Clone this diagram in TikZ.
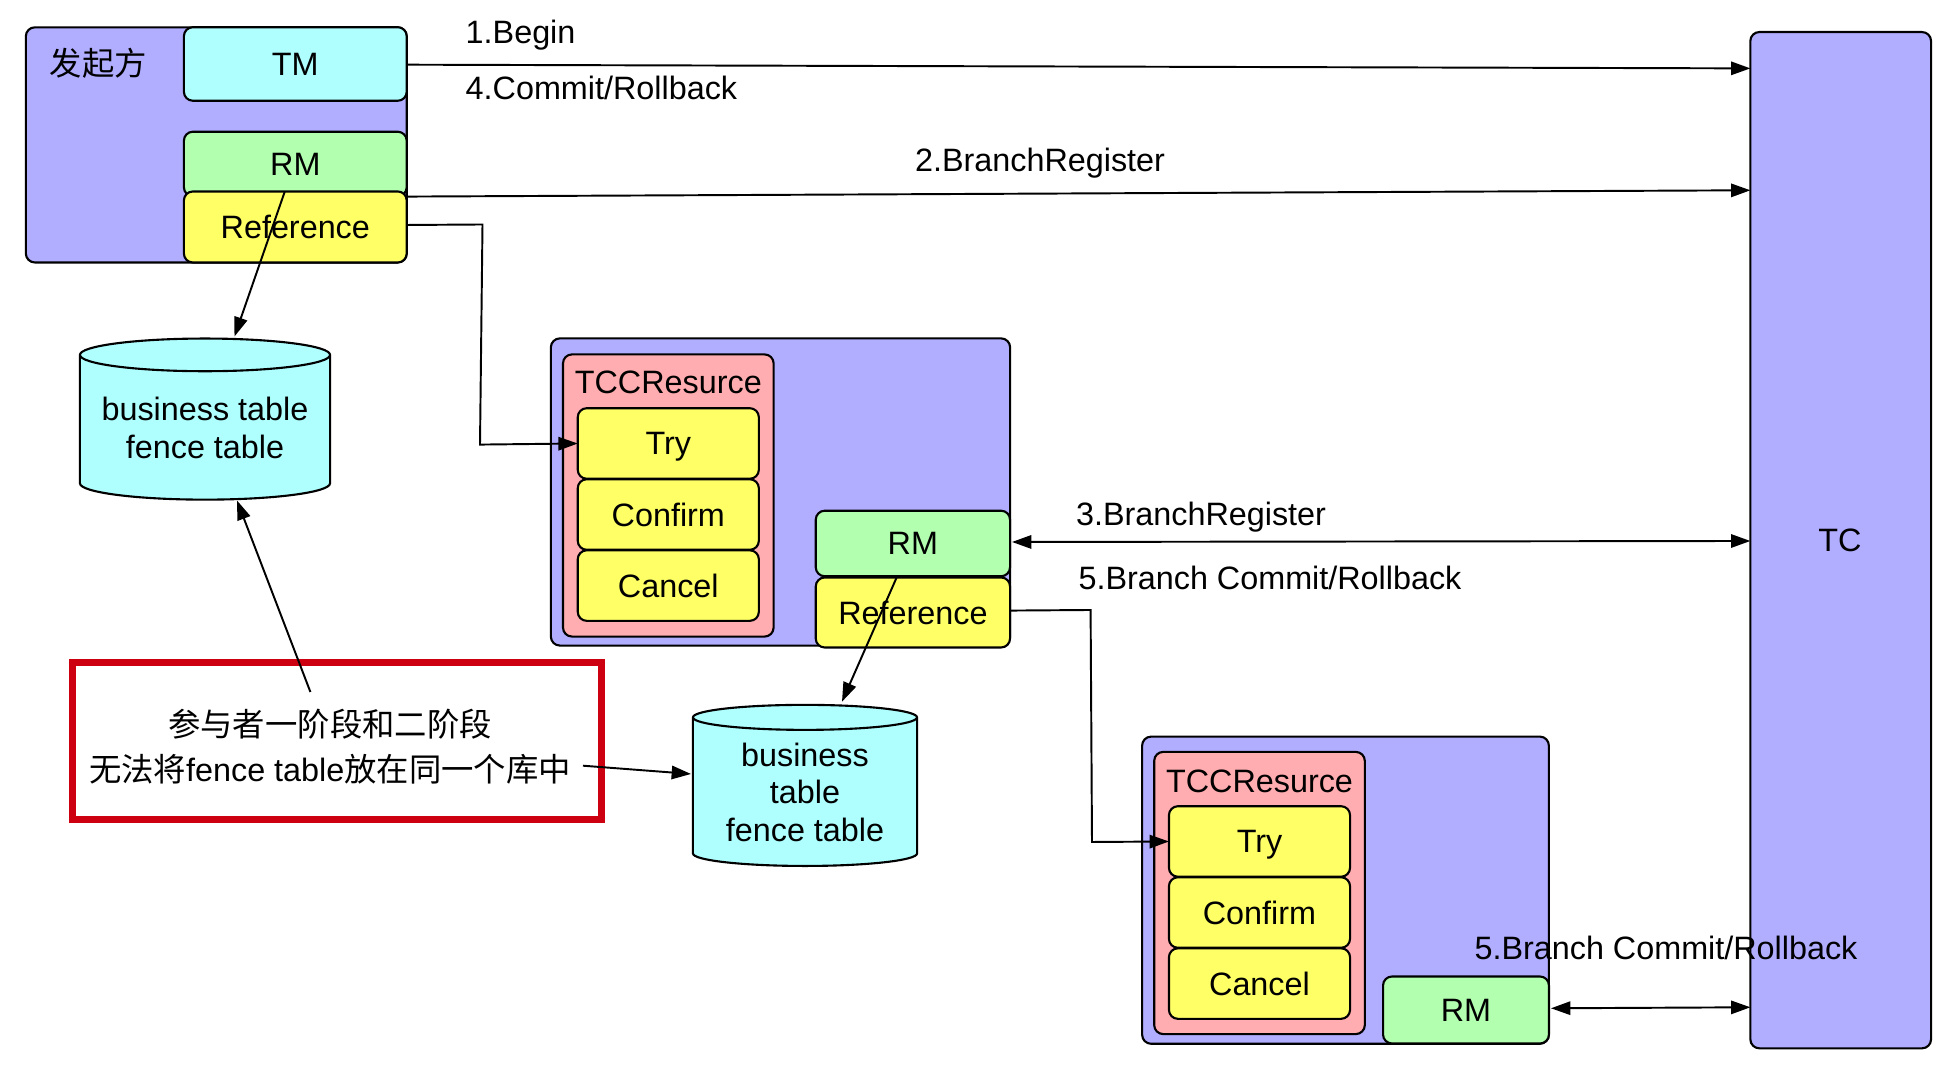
\documentclass[tikz,border=0pt]{standalone}
\usepackage{fontspec}
\setmainfont{Liberation Sans}
\newfontfamily\cjk{Noto Sans CJK SC}
\usetikzlibrary{arrows.meta}
\usetikzlibrary{shapes.geometric}
\usetikzlibrary{positioning}
\definecolor{hostblue}{HTML}{B1ADFF}
\definecolor{tmcyan}{HTML}{AFFFFF}
\definecolor{rmgreen}{HTML}{B2FFB0}
\definecolor{refyellow}{HTML}{FFFF66}
\definecolor{tccpink}{HTML}{FFADB0}
\definecolor{notered}{HTML}{CC0010}
\tikzset{font={\fontsize{9.2pt}{10.7pt}\selectfont}}
\tikzset{
  box/.style={draw, rounded corners=0.09cm, line width=0.6pt, inner sep=0pt, outer sep=0pt},
  host/.style={box, fill=hostblue},
  tm/.style={box, fill=tmcyan, minimum width=2.227cm, minimum height=0.735cm},
  rm/.style={box, fill=rmgreen},
  ref/.style={box, fill=refyellow},
  tcc/.style={box, fill=tccpink, minimum width=2.105cm},
  phase/.style={box, fill=refyellow, minimum width=1.81cm, minimum height=0.705cm, text depth=0pt},
  db/.style={cylinder, shape border rotate=90, draw, fill=tmcyan, line width=0.6pt, aspect=0.158,
    inner sep=0pt, outer sep=0pt, align=center},
  arrow/.style={-{Triangle[length=5.5pt,width=3.8pt]}, line width=0.55pt},
  both/.style={{Triangle[length=5.5pt,width=3.8pt]}-{Triangle[length=5.5pt,width=3.8pt]}, line width=0.55pt},
}
\begin{document}
\begin{tikzpicture}[x=0.01cm, y=-0.01cm]
  \useasboundingbox (0,0) rectangle (1950,1074);

  % Define nodes
  \node[host, minimum width=3.807cm, minimum height=2.35cm] (init) at (216.3,144.9) {};
  \node (initname) at (98.5,63.4) {\cjk 发起方};
  \node[tm] (tmA) at (295.3,64) {TM};
  \node[rm, minimum width=2.227cm, minimum height=0.645cm] (rmA) at (295.3,164) {RM};
  \node[ref, minimum width=2.227cm, minimum height=0.71cm] (refA) at (295.3,227) {Reference};

  \node[host, minimum width=4.59cm, minimum height=3.07cm] (groupA) at (780.5,492) {};
  \node[tcc, minimum height=2.82cm] (tccA) at (668.3,495.5) {};
  \node (tccnameA) at (668.3,382) {TCCResurce};
  \node[phase] (tryA) at (668.3,443.5) {Try};
  \node[phase, below=0.005cm of tryA] (confirmA) {Confirm};
  \node[phase, below=0.005cm of confirmA] (cancelA) {Cancel};
  \node[rm, minimum width=1.942cm, minimum height=0.655cm] (rmB) at (912.9,543.5) {RM};
  \node[ref, minimum width=1.942cm, minimum height=0.70cm] (refB) at (912.9,612.5) {Reference};

  \node[host, minimum width=4.065cm, minimum height=3.07cm] (groupB) at (1345.5,890.2) {};
  \node[tcc, minimum height=2.82cm] (tccB) at (1259.5,893) {};
  \node (tccnameB) at (1259.5,781) {TCCResurce};
  \node[phase] (tryB) at (1259.5,841.5) {Try};
  \node[phase, below=0.005cm of tryB] (confirmB) {Confirm};
  \node[phase, below=0.005cm of confirmB] (cancelB) {Cancel};
  \node[rm, minimum width=1.658cm, minimum height=0.67cm] (rmC) at (1466,1010) {RM};

  \node[box, fill=hostblue, minimum width=1.806cm, minimum height=10.157cm] (tc) at (1840.7,540.2) {};
  \node (tcname) at (1840,540) {TC};

  \node[db, minimum width=2.5cm, minimum height=1.61cm] (dbA) at (205,427.8) {business table\\fence table};
  \node[db, minimum width=2.24cm, minimum height=1.61cm] (dbB) at (805,792.2) {business\\table\\fence table};

  \node[draw=notered, line width=2pt, minimum width=5.285cm, minimum height=1.57cm, inner sep=0pt] (note) at (337,741) {};
  \node[align=center] (notetext) at (330,747)
    {{\cjk 参与者一阶段和二阶段}\\[2.05pt]{\cjk 无法将}fence table{\cjk 放在同一个库中}};

  % Labels
  \node[anchor=west, inner sep=0pt] (beginlabel) at (465,35) {1.Begin};
  \node[anchor=west, inner sep=0pt] (commitlabel) at (465,88) {4.Commit/Rollback};
  \node (registerA) at (1040,163) {2.BranchRegister};
  \node (registerB) at (1201,517.5) {3.BranchRegister};
  \node (branchA) at (1270,578) {5.Branch Commit/Rollback};
  \node (branchB) at (1666,948) {5.Branch Commit/Rollback};

  % Free ends
  \coordinate (tmend) at (1750.4,68.4);
  \coordinate (rmstart) at (406.7,196.6);
  \coordinate (rmend) at (1750.4,190.3);
  \coordinate (refAout) at (406.7,225);
  \coordinate (refAbend) at (482.5,224.5);
  \coordinate (refAcorner) at (480,444.6);
  \coordinate (rmAout) at (284.8,191.5);
  \coordinate (dbAtop) at (234.5,336.5);
  \coordinate (noteup) at (310.4,692);
  \coordinate (dbAbot) at (237,500.5);
  \coordinate (rmBout) at (897,576.7);
  \coordinate (dbBtop) at (842,701.7);
  \coordinate (noteright) at (583,765.7);
  \coordinate (dbBin) at (691,774);
  \coordinate (rmBeast) at (1012,542);
  \coordinate (rmBend) at (1750.4,541);
  \coordinate (refBout) at (1010,610.6);
  \coordinate (refBbend) at (1090.6,610);
  \coordinate (refBcorner) at (1092,842);
  \coordinate (rmCeast) at (1551,1008.3);
  \coordinate (rmCend) at (1750.4,1007.3);

  % Connect the nodes
  \draw[arrow] (tmA.east |- 0,64.7) -- (tmend);
  \draw[arrow] (rmstart) -- (rmend);
  \draw[arrow] (refAout) -- (refAbend) -- (refAcorner) -- (tryA.west);
  \draw[arrow] (rmAout) -- (dbAtop);
  \draw[arrow] (noteup) -- (dbAbot);
  \draw[arrow] (rmBout) -- (dbBtop);
  \draw[arrow] (noteright) -- (dbBin);
  \draw[both] (rmBeast) -- (rmBend);
  \draw[arrow] (refBout) -- (refBbend) -- (refBcorner) -- (tryB.west);
  \draw[both] (rmCeast) -- (rmCend);
\end{tikzpicture}
\end{document}
